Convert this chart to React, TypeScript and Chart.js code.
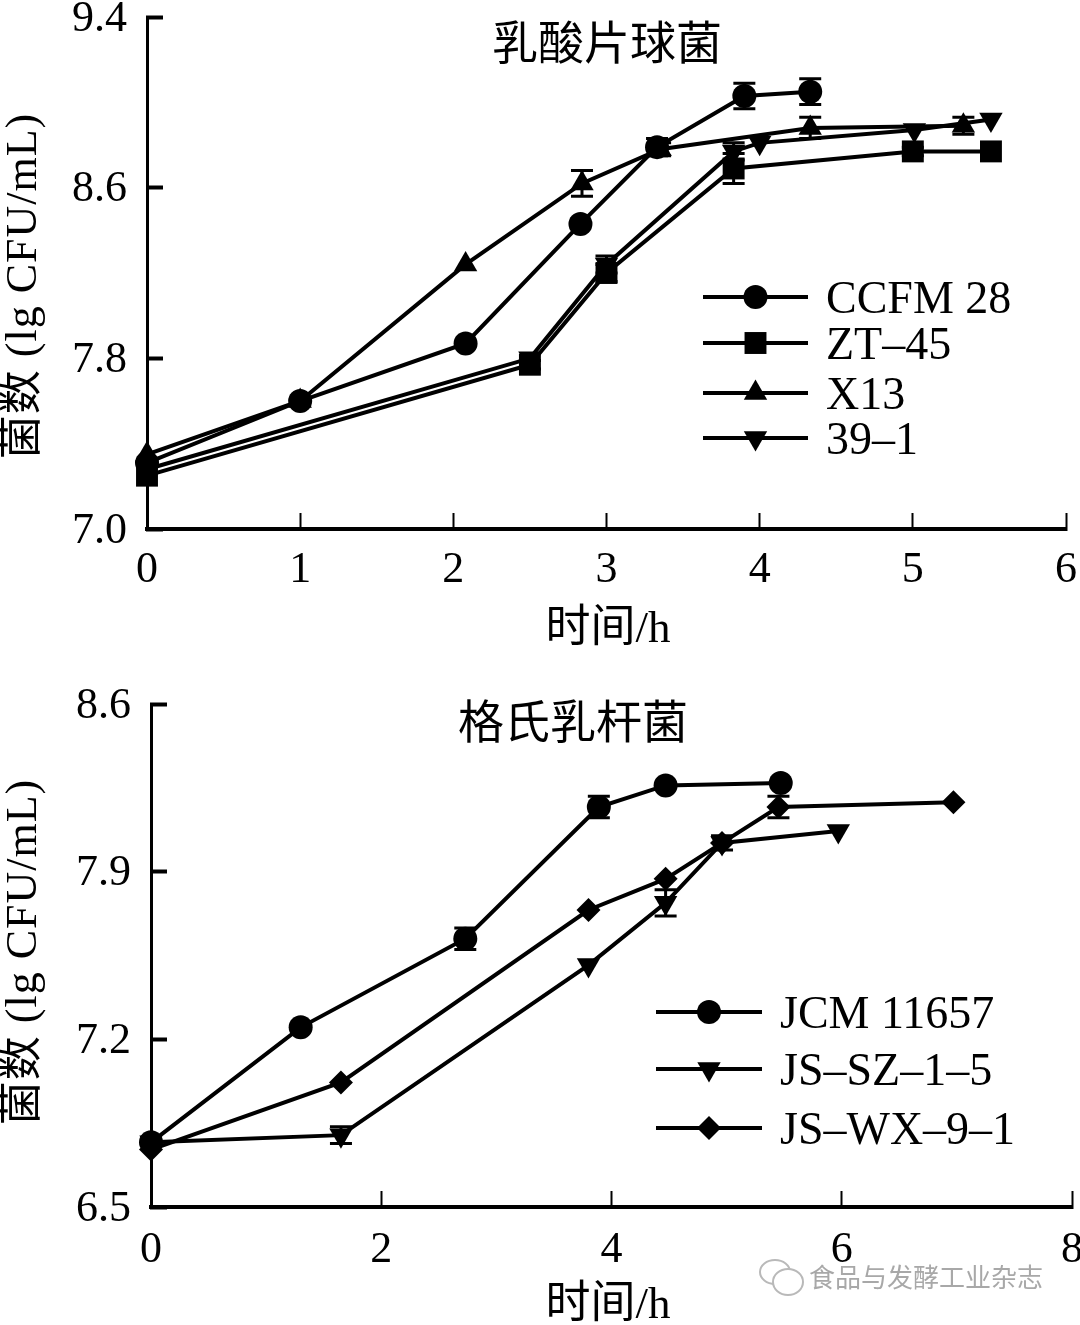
import React, { useEffect, useRef } from "react";
import { Chart, registerables } from "chart.js";
import { drawPoint } from "chart.js/helpers";

Chart.register(...registerables);

const SERIF = '"Liberation Serif", "Noto Sans CJK SC", serif';

// ---------- Panel 1 data ----------
const ccfmX = [0, 1, 2.08, 2.83, 3.33, 3.9, 4.33];
const ccfmY = [7.31, 7.6, 7.87, 8.43, 8.79, 9.03, 9.05];
const ccfmE = [0, 0, 0, 0, 0.04, 0.06, 0.06];
const ztX = [0, 2.5, 3, 3.83, 5, 5.51];
const ztY = [7.25, 7.77, 8.2, 8.69, 8.77, 8.77];
const ztE = [0, 0.02, 0.04, 0.07, 0.02, 0];
const x13X = [0, 1, 2.08, 2.84, 3.35, 4.33, 5.33];
const x13Y = [7.35, 7.6, 8.24, 8.62, 8.78, 8.88, 8.89];
const x13E = [0, 0, 0, 0.06, 0.03, 0.05, 0.04];
const s391X = [0, 2.5, 3, 3.83, 4, 5.01, 5.51];
const s391Y = [7.28, 7.8, 8.24, 8.77, 8.81, 8.87, 8.92];
const s391E = [0, 0, 0.04, 0.04, 0, 0, 0];
const p1Labels = ["CCFM 28", "ZT–45", "X13", "39–1"];

// ---------- Panel 2 data ----------
const jcmX = [0, 1.3, 2.73, 3.89, 4.47, 5.47];
const jcmY = [6.77, 7.25, 7.62, 8.17, 8.26, 8.27];
const jcmE = [0, 0, 0.045, 0.045, 0, 0];
const szX = [0, 1.65, 3.8, 4.47, 4.96, 5.97];
const szY = [6.77, 6.8, 7.51, 7.77, 8.02, 8.07];
const szE = [0, 0.035, 0, 0.055, 0, 0];
const wxX = [0, 1.65, 3.8, 4.47, 4.96, 5.45, 6.97];
const wxY = [6.74, 7.02, 7.74, 7.87, 8.02, 8.17, 8.19];
const wxE = [0, 0, 0, 0, 0.03, 0.045, 0];
const p2Labels = ["JCM 11657", "JS–SZ–1–5", "JS–WX–9–1"];

type Text = { s: string; x: number; y: number; size: number; rot?: boolean; color?: string; family?: string; spacing?: string };

const marks: Record<string, { pointStyle: string; radius: number; rotation?: number }> = {
  circle: { pointStyle: "circle", radius: 12 },
  square: { pointStyle: "rect", radius: 15.5 },
  up: { pointStyle: "triangle", radius: 13.5 },
  down: { pointStyle: "triangle", radius: 13.5, rotation: 180 },
  diamond: { pointStyle: "rectRot", radius: 12 },
};

function ds(label: string, xs: number[], ys: number[], errs: number[], mark: string) {
  const m = marks[mark];
  return {
    label,
    data: xs.map((x, i) => ({ x, y: ys[i] })),
    errs,
    borderColor: "#000",
    backgroundColor: "#000",
    borderWidth: 4,
    tension: 0,
    clip: false,
    pointStyle: m.pointStyle,
    pointRadius: m.radius,
    pointRotation: m.rotation ?? 0,
    pointBackgroundColor: "#000",
    pointBorderColor: "#000",
    pointBorderWidth: 0,
  };
}

const errorBars = {
  id: "errorBars",
  afterDatasetsDraw(chart: any) {
    const { ctx } = chart;
    const sx = chart.scales.x;
    const sy = chart.scales.y;
    ctx.save();
    ctx.strokeStyle = "#000";
    ctx.lineWidth = 3;
    chart.data.datasets.forEach((d: any) => {
      d.data.forEach((p: any, i: number) => {
        const e = d.errs[i];
        if (!e) return;
        const x = sx.getPixelForValue(p.x);
        const y1 = sy.getPixelForValue(p.y + e);
        const y2 = sy.getPixelForValue(p.y - e);
        ctx.beginPath();
        ctx.moveTo(x, y1);
        ctx.lineTo(x, y2);
        ctx.moveTo(x - 11, y1);
        ctx.lineTo(x + 11, y1);
        ctx.moveTo(x - 11, y2);
        ctx.lineTo(x + 11, y2);
        ctx.stroke();
      });
    });
    ctx.restore();
  },
};

const panelDecor = {
  id: "panelDecor",
  afterDraw(chart: any, _a: any, opts: any) {
    const { ctx } = chart;
    ctx.save();
    ctx.textBaseline = "middle";
    (opts.texts as Text[]).forEach((t) => {
      ctx.save();
      ctx.fillStyle = t.color ?? "#000";
      ctx.font = `${t.size}px ${t.family ?? SERIF}`;
      if (t.spacing) ctx.letterSpacing = t.spacing;
      ctx.textAlign = "center";
      ctx.translate(t.x, t.y);
      if (t.rot) ctx.rotate(-Math.PI / 2);
      ctx.fillText(t.s, 0, 0);
      ctx.restore();
    });
    // legend: line, marker, label
    const lg = opts.legend;
    chart.data.datasets.forEach((d: any, i: number) => {
      const y = lg.ys[i];
      ctx.strokeStyle = "#000";
      ctx.lineWidth = 4;
      ctx.beginPath();
      ctx.moveTo(lg.x1, y);
      ctx.lineTo(lg.x2, y);
      ctx.stroke();
      ctx.fillStyle = "#000";
      drawPoint(
        ctx,
        { pointStyle: d.pointStyle, radius: d.pointRadius, rotation: d.pointRotation, borderWidth: 0 },
        (lg.x1 + lg.x2) / 2,
        y
      );
      ctx.textAlign = "left";
      ctx.font = `${lg.size}px ${SERIF}`;
      ctx.fillText(d.label, lg.tx, y + 4);
    });
    // watermark icon
    if (opts.mark) {
      const { x, y } = opts.mark;
      ctx.strokeStyle = "#b9b9b9";
      ctx.lineWidth = 2;
      ctx.beginPath();
      ctx.ellipse(x, y - 5, 15, 12, 0, 0, Math.PI * 2);
      ctx.stroke();
      ctx.fillStyle = "#fff";
      ctx.beginPath();
      ctx.ellipse(x + 13, y + 5, 15, 13, 0, 0, Math.PI * 2);
      ctx.fill();
      ctx.stroke();
    }
    ctx.restore();
  },
};

function makeOptions(cfg: any) {
  const tickFont = { family: '"Liberation Serif", serif', size: 44 };
  return {
    responsive: false,
    animation: false,
    layout: { autoPadding: false, padding: { top: cfg.top, right: cfg.right, left: 0, bottom: 0 } },
    scales: {
      x: {
        type: "linear",
        min: cfg.xMin,
        max: cfg.xMax,
        border: { color: "#000", width: 4 },
        grid: { drawOnChartArea: false, tickLength: -16, tickWidth: 2, tickColor: "#000" },
        ticks: {
          stepSize: cfg.xStep,
          padding: cfg.xPad,
          color: "#000",
          font: tickFont,
          maxRotation: 0,
          autoSkip: false,
          callback: (v: number) => String(v),
        },
        afterFit: (s: any) => {
          s.height = cfg.xH;
          s.paddingLeft = 0;
          s.paddingRight = 0;
        },
      },
      y: {
        type: "linear",
        min: cfg.yMin,
        max: cfg.yMax,
        border: { color: "#000", width: 3 },
        grid: { drawOnChartArea: false, tickLength: -16, tickWidth: 4, tickColor: "#000" },
        ticks: {
          stepSize: cfg.yStep,
          padding: 36,
          labelOffset: 2,
          color: "#000",
          font: tickFont,
          autoSkip: false,
          callback: (v: number) => v.toFixed(1),
        },
        afterFit: (s: any) => {
          s.width = cfg.yW;
          s.paddingTop = 0;
          s.paddingBottom = 0;
        },
      },
    },
    plugins: {
      legend: { display: false },
      title: { display: false },
      tooltip: { enabled: false },
      panelDecor: { texts: cfg.texts, legend: cfg.legend, mark: cfg.mark },
    },
  };
}

const yAxisLabel = "菌数 (lg CFU/mL)";
const xAxisLabel = "时间/h";

export default function App() {
  const r1 = useRef<HTMLCanvasElement>(null);
  const r2 = useRef<HTMLCanvasElement>(null);

  useEffect(() => {
    const c1 = new Chart(r1.current as any, {
      type: "line",
      data: {
        datasets: [
          ds(p1Labels[0], ccfmX, ccfmY, ccfmE, "circle"),
          ds(p1Labels[1], ztX, ztY, ztE, "square"),
          ds(p1Labels[2], x13X, x13Y, x13E, "up"),
          ds(p1Labels[3], s391X, s391Y, s391E, "down"),
        ] as any,
      },
      options: makeOptions({
        top: 17,
        right: 14,
        xMin: 0,
        xMax: 6,
        xStep: 1,
        yMin: 7.0,
        yMax: 9.4,
        yStep: 0.8,
        xH: 131,
        yW: 147,
        xPad: 31,
        texts: [
          { s: "乳酸片球菌", x: 607, y: 47, size: 46 },
          { s: xAxisLabel, x: 608, y: 630, size: 45 },
          { s: yAxisLabel, x: 24, y: 286, size: 44, rot: true, spacing: "1px" },
        ],
        legend: { x1: 703, x2: 808, tx: 826, ys: [297, 343, 393, 438], size: 46 },
      }) as any,
      plugins: [errorBars, panelDecor],
    });
    const c2 = new Chart(r2.current as any, {
      type: "line",
      data: {
        datasets: [
          ds(p2Labels[0], jcmX, jcmY, jcmE, "circle"),
          ds(p2Labels[1], szX, szY, szE, "down"),
          ds(p2Labels[2], wxX, wxY, wxE, "diamond"),
        ] as any,
      },
      options: makeOptions({
        top: 44,
        right: 8,
        xMin: 0,
        xMax: 8,
        xStep: 2,
        yMin: 6.5,
        yMax: 8.6,
        yStep: 0.7,
        xH: 118,
        yW: 151,
        xPad: 33,
        texts: [
          { s: "格氏乳杆菌", x: 573, y: 66, size: 46 },
          { s: xAxisLabel, x: 608, y: 646, size: 45 },
          { s: yAxisLabel, x: 24, y: 292, size: 44, rot: true, spacing: "1px" },
          { s: "食品与发酵工业杂志", x: 926, y: 617, size: 26, color: "#a8a8a8", family: '"Noto Sans CJK SC", sans-serif' },
        ],
        legend: { x1: 656, x2: 762, tx: 780, ys: [352, 409, 468], size: 46 },
        mark: { x: 775, y: 617 },
      }) as any,
      plugins: [errorBars, panelDecor],
    });
    return () => {
      c1.destroy();
      c2.destroy();
    };
  }, []);

  return (
    <div style={{ position: "absolute", left: 0, top: 0, width: 1080, height: 1325, background: "#fff", overflow: "hidden" }}>
      <canvas ref={r1} width={1080} height={660} style={{ position: "absolute", left: 0, top: 0 }} />
      <canvas ref={r2} width={1080} height={665} style={{ position: "absolute", left: 0, top: 660 }} />
    </div>
  );
}
